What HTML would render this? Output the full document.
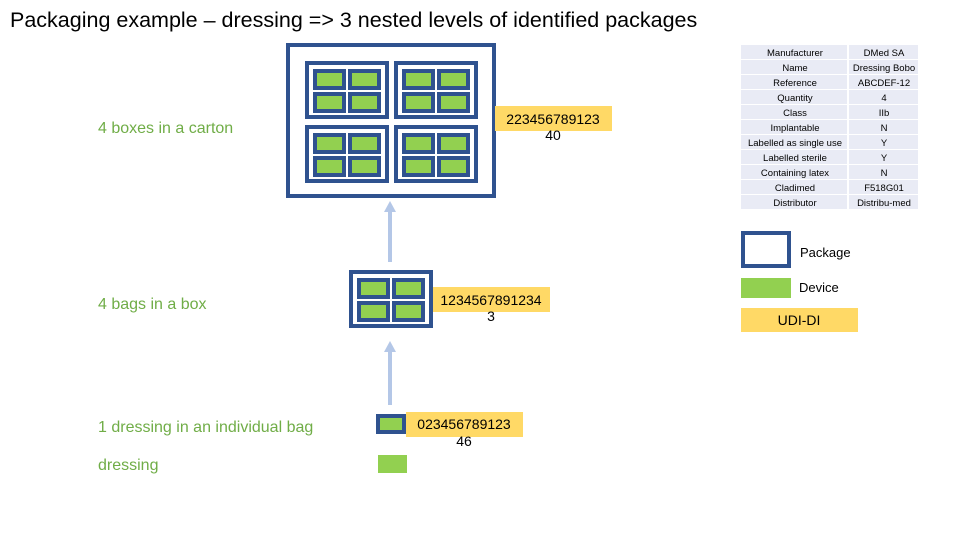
<!DOCTYPE html>
<html><head><meta charset="utf-8"><style>
body{margin:0;background:#fff;}
svg{display:block;font-family:"Liberation Sans",sans-serif;}
</style></head><body>
<svg width="960" height="540" viewBox="0 0 960 540" xmlns="http://www.w3.org/2000/svg">
<defs>
<g id="bag"><rect x="0" y="0" width="33" height="21" fill="#2f528f"/><rect x="4" y="4" width="25" height="13" fill="#92d050"/></g>
<g id="box">
<rect x="2" y="2" width="80" height="54" fill="#fff" stroke="#2f528f" stroke-width="4"/>
<use href="#bag" x="8" y="8"/><use href="#bag" x="43" y="8"/>
<use href="#bag" x="8" y="31"/><use href="#bag" x="43" y="31"/>
</g>
</defs>
<text x="10" y="27" font-size="21.5" fill="#000">Packaging example – dressing =&gt; 3 nested levels of identified packages</text>

<g font-size="16" fill="#70ad47">
<text x="98" y="133">4 boxes in a carton</text>
<text x="98" y="309">4 bags in a box</text>
<text x="98" y="432">1 dressing in an individual bag</text>
<text x="98" y="470">dressing</text>
</g>

<!-- carton -->
<rect x="288" y="45" width="206" height="151" fill="#fff" stroke="#2f528f" stroke-width="4"/>
<use href="#box" x="305" y="61"/><use href="#box" x="394" y="61"/>
<use href="#box" x="305" y="125"/><use href="#box" x="394" y="125"/>

<!-- arrows -->
<g fill="#b4c7e7" stroke="#b4c7e7">
<line x1="390" y1="262" x2="390" y2="210" stroke-width="4"/>
<polygon points="384,212 396,212 390,201" stroke="none"/>
<line x1="390" y1="405" x2="390" y2="350" stroke-width="4"/>
<polygon points="384,352 396,352 390,341" stroke="none"/>
</g>

<!-- box -->
<use href="#box" x="349" y="270"/>

<!-- individual bag -->
<rect x="376" y="414" width="30" height="20" fill="#2f528f"/>
<rect x="380" y="418" width="22" height="12" fill="#92d050"/>
<rect x="378" y="455" width="29" height="18" fill="#92d050"/>

<!-- UDI labels -->
<g font-size="14" fill="#000" text-anchor="middle">
<rect x="495" y="106" width="117" height="25" fill="#ffd966"/>
<text x="553" y="124">223456789123</text><text x="553" y="140">40</text>
<rect x="433" y="287" width="117" height="25" fill="#ffd966"/>
<text x="491" y="305">1234567891234</text><text x="491" y="321">3</text>
<rect x="406" y="412" width="117" height="25" fill="#ffd966"/>
<text x="464" y="429">023456789123</text><text x="464" y="446">46</text>
</g>

<!-- table -->
<g font-size="9.5" fill="#000" text-anchor="middle">
<g fill="#e9ebf5">
<rect x="741" y="45" width="106" height="14"/><rect x="849" y="45" width="69" height="14"/>
<rect x="741" y="60" width="106" height="14"/><rect x="849" y="60" width="69" height="14"/>
<rect x="741" y="75" width="106" height="14"/><rect x="849" y="75" width="69" height="14"/>
<rect x="741" y="90" width="106" height="14"/><rect x="849" y="90" width="69" height="14"/>
<rect x="741" y="105" width="106" height="14"/><rect x="849" y="105" width="69" height="14"/>
<rect x="741" y="120" width="106" height="14"/><rect x="849" y="120" width="69" height="14"/>
<rect x="741" y="135" width="106" height="14"/><rect x="849" y="135" width="69" height="14"/>
<rect x="741" y="150" width="106" height="14"/><rect x="849" y="150" width="69" height="14"/>
<rect x="741" y="165" width="106" height="14"/><rect x="849" y="165" width="69" height="14"/>
<rect x="741" y="180" width="106" height="14"/><rect x="849" y="180" width="69" height="14"/>
<rect x="741" y="195" width="106" height="14"/><rect x="849" y="195" width="69" height="14"/>
</g>
<text x="795" y="56">Manufacturer</text><text x="884" y="56">DMed SA</text>
<text x="795" y="71">Name</text><text x="884" y="71">Dressing Bobo</text>
<text x="795" y="86">Reference</text><text x="884" y="86">ABCDEF-12</text>
<text x="795" y="101">Quantity</text><text x="884" y="101">4</text>
<text x="795" y="116">Class</text><text x="884" y="116">IIb</text>
<text x="795" y="131">Implantable</text><text x="884" y="131">N</text>
<text x="795" y="146">Labelled as single use</text><text x="884" y="146">Y</text>
<text x="795" y="161">Labelled sterile</text><text x="884" y="161">Y</text>
<text x="795" y="176">Containing latex</text><text x="884" y="176">N</text>
<text x="795" y="191">Cladimed</text><text x="884" y="191">F518G01</text>
<text x="795" y="206">Distributor</text><text x="884" y="206">Distribu-med</text>
</g>

<!-- legend -->
<rect x="743" y="233" width="46" height="33" fill="#fff" stroke="#2f528f" stroke-width="4"/>
<text x="800" y="257" font-size="13">Package</text>
<rect x="741" y="278" width="50" height="20" fill="#92d050"/>
<text x="799" y="292" font-size="13">Device</text>
<rect x="741" y="308" width="117" height="24" fill="#ffd966"/>
<text x="799" y="325" font-size="14" text-anchor="middle">UDI-DI</text>
</svg>
</body></html>
